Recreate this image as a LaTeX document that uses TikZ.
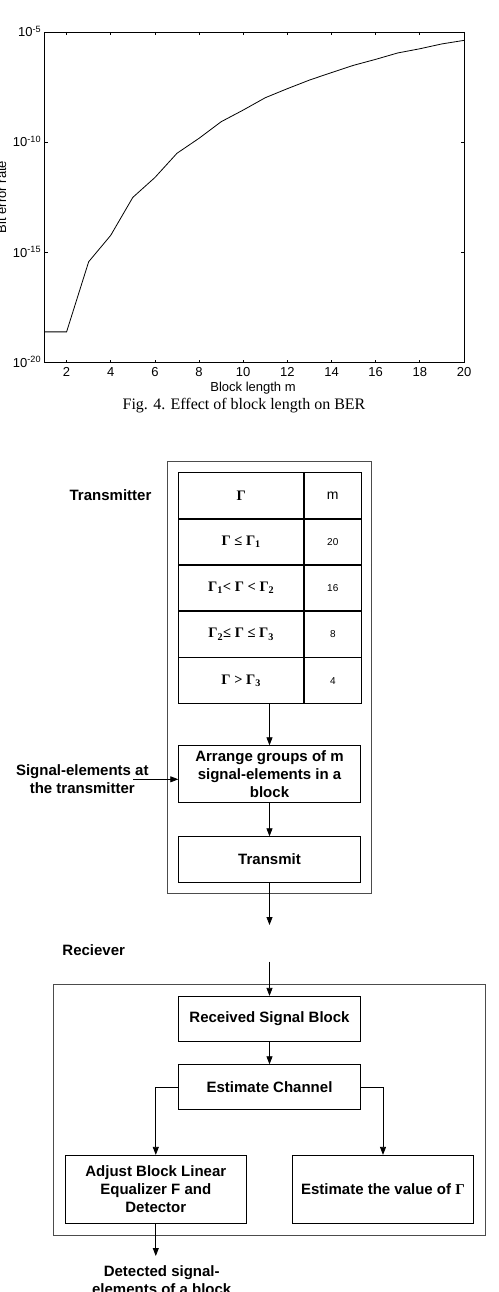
\documentclass[tikz,border=0pt]{standalone}
\usepackage{fontspec}
\setmainfont{Liberation Serif}
\setsansfont{Liberation Sans}
\usetikzlibrary{arrows.meta,positioning}
\def\bfsans{\sffamily\bfseries\fontsize{15}{18}\selectfont}
\def\grk#1{{\rmfamily\bfseries #1}}

\begin{document}
\begin{tikzpicture}[x=1pt,y=-1pt,
    blk/.style={draw, line width=0.8pt, minimum width=181.6pt, inner sep=2pt, align=center, font=\bfsans},
    gcell/.style={draw, line width=0.8pt, minimum width=125pt, minimum height=45.5pt, inner sep=0pt, font=\rmfamily\bfseries\fontsize{14.5}{16}\selectfont},
    mcell/.style={draw, line width=0.8pt, minimum width=56.6pt, minimum height=45.5pt, inner sep=0pt, font=\sffamily\fontsize{10}{11}\selectfont},
    flow/.style={-{Triangle[length=8pt,width=6pt]}, line width=0.8pt},
    frame/.style={draw=black!70, line width=0.9pt},
    lbl/.style={font=\bfsans, align=center, inner sep=0pt},
    tick/.style={font=\sffamily\fontsize{13}{14}\selectfont, inner sep=0pt}]
  \useasboundingbox (0,0) rectangle (498,1292);

  % BER against block length, log scale
  \begin{scope}[x=22.08pt, y=22.05pt, shift={(22.42pt,78.25pt)}, line width=0.8pt]
    \draw (1,-20) rectangle (20,-5);
    \foreach \m in {2,4,...,20} {
      \draw (\m,-20) -- ++(0,3pt);
      \draw (\m,-5) -- ++(0,-3pt);
      \node[tick, anchor=north] (xt\m) at ([yshift=-4pt]\m,-20) {\m};
    }
    \foreach \l in {-5,-10,-15,-20} {
      \draw (1,\l) -- ++(3pt,0);
      \draw (20,\l) -- ++(-3pt,0);
      \node[tick, anchor=base east] (yt\l) at ([xshift=-3pt,yshift=-4.5pt]1,\l) {10\textsuperscript{\l}};
    }
    \draw (1,-18.6) -- (2,-18.6) -- (3,-15.42) -- (4,-14.22) -- (5,-12.5)
      -- (6,-11.6) -- (7,-10.5) -- (8,-9.82) -- (9,-9.07) -- (10,-8.54)
      -- (11,-7.98) -- (12,-7.57) -- (13,-7.18) -- (14,-6.84) -- (15,-6.51)
      -- (16,-6.24) -- (17,-5.95) -- (18,-5.76) -- (19,-5.54) -- (20,-5.38);
  \end{scope}
  \node[tick] (xlab) at (253,388) {Block length m};
  \node[tick, rotate=90] (ylab) at (1.5,197) {Bit error rate};
  \node[font=\rmfamily\fontsize{16}{18}\selectfont, inner sep=0pt] (cap) at (244,405.7) {Fig. 4. Effect of block length on BER};

  % transmitter
  \draw[frame] (167,461) rectangle (371.7,893.3);
  \node[lbl] (txlab) at (110.5,495) {Transmitter};
  \node[gcell] (g0) at (241.2,495.4) {Γ};
  \node[mcell, font=\sffamily\fontsize{14}{15}\selectfont, right=0pt of g0] (m0) {m};
  \node[gcell, below=0pt of g0] (g1) {Γ ≤ Γ\textsubscript{1}};
  \node[mcell, right=0pt of g1] (m1) {20};
  \node[gcell, below=0pt of g1] (g2) {Γ\textsubscript{1}< Γ < Γ\textsubscript{2}};
  \node[mcell, right=0pt of g2] (m2) {16};
  \node[gcell, below=0pt of g2] (g3) {Γ\textsubscript{2}≤ Γ ≤ Γ\textsubscript{3}};
  \node[mcell, right=0pt of g3] (m3) {8};
  \node[gcell, below=0pt of g3] (g4) {Γ > Γ\textsubscript{3}};
  \node[mcell, right=0pt of g4] (m4) {4};

  \node[blk, minimum height=57pt] (arr) at (269.5,774.2) {Arrange groups of m\\signal-elements in a\\block};
  \node[blk, minimum height=45.6pt] (tx) at (269.5,859.5) {Transmit};
  \node[lbl] (sig) at (82.3,779.3) {Signal-elements at\\the transmitter};
  \coordinate (sigend) at (133,779.3);
  \coordinate (txout) at (269.5,925);

  \draw[flow] (arr.north |- g4.south) -- (arr.north);
  \draw[flow] (sigend) -- (sigend -| arr.west);
  \draw[flow] (arr) -- (tx);
  \draw[flow] (tx) -- (txout);

  % receiver
  \node[lbl] (rxlab) at (93.7,950) {Reciever};
  \draw[frame] (53.7,984.7) rectangle (485.3,1235);
  \node[blk, minimum height=45pt] (rsb) at (269.5,1018.8) {Received Signal Block};
  \node[blk, minimum height=45pt] (ech) at (269.5,1087.2) {Estimate Channel};
  \node[blk, minimum height=68pt] (adj) at (155.8,1189.3) {Adjust Block Linear\\Equalizer F and\\Detector};
  \node[blk, minimum height=68pt] (est) at (383,1189.3) {Estimate the value of \grk{Γ}};
  \node[lbl] (det) at (161.7,1280) {Detected signal-\\elements of a block};
  \coordinate (rxin) at (269.5,961.7);
  \coordinate (detin) at (155.8,1256);

  \draw[flow] (rxin) -- (rsb);
  \draw[flow] (rsb) -- (ech);
  \draw[flow] (ech.west) -| (adj.north);
  \draw[flow] (ech.east) -| (est.north);
  \draw[flow] (adj.south) -- (detin);
\end{tikzpicture}
\end{document}
